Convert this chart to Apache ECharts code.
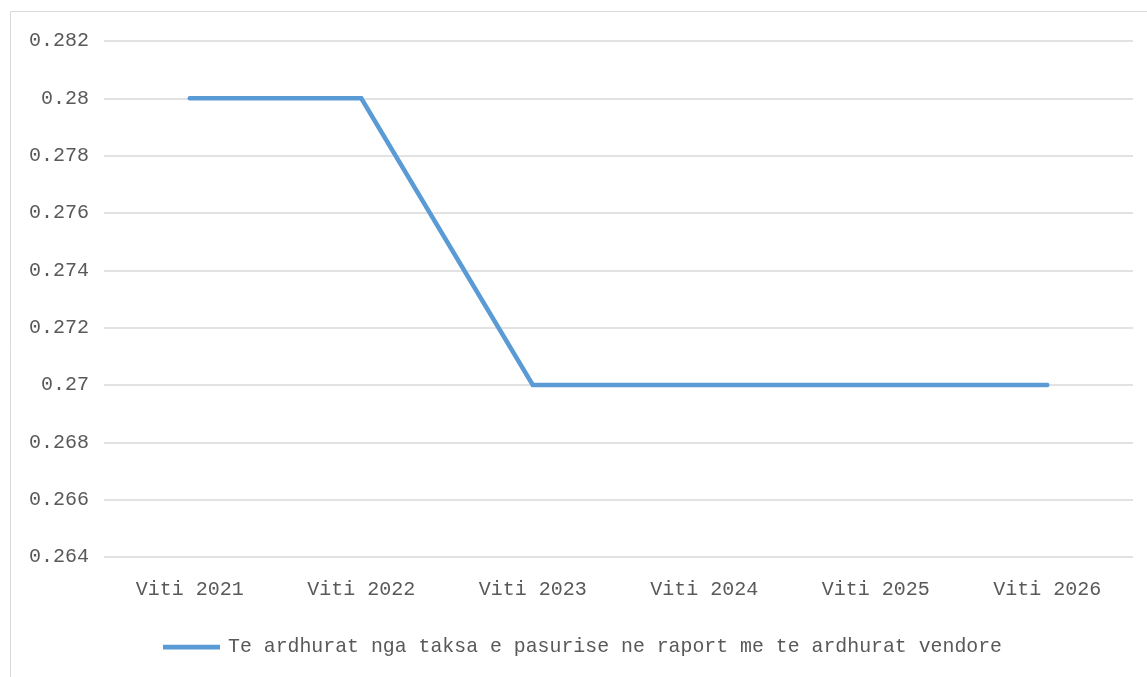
<!DOCTYPE html>
<html>
<head>
<meta charset="utf-8">
<script src="https://cdn.jsdelivr.net/npm/echarts@6/dist/echarts.min.js"></script>
<style>html,body{margin:0;padding:0;background:#fff;}#c{width:1147px;height:677px;}</style>
</head>
<body>
<div id="c"></div>
<script>
const categories = ['Viti 2021', 'Viti 2022', 'Viti 2023', 'Viti 2024', 'Viti 2025', 'Viti 2026'];
const seriesName = 'Te ardhurat nga taksa e pasurise ne raport me te ardhurat vendore';
const values = [0.28, 0.28, 0.27, 0.27, 0.27, 0.27];
const yMin = 0.264, yMax = 0.282, yStep = 0.002;

const font = 'Liberation Mono';
const chart = echarts.init(document.getElementById('c'), null, {renderer: 'canvas'});
chart.setOption({
  animation: false,
  backgroundColor: '#ffffff',
  graphic: [{
    type: 'rect', shape: {x: 10.5, y: 11.5, width: 1200, height: 700},
    style: {fill: 'none', stroke: '#d9d9d9', lineWidth: 1}, silent: true, z: -1
  }],
  grid: {left: 104, right: 14, top: 41, bottom: 120, containLabel: false},
  legend: {
    top: 632, left: 158, itemWidth: 57, itemHeight: 5,
    textStyle: {fontFamily: font, fontSize: 19.85, color: '#595959', padding: [0, 0, 0, 3]},
    data: [{name: seriesName, icon: 'path://M0,0 L60,0 L60,5 L0,5 Z'}]
  },
  xAxis: {
    type: 'category', data: categories, boundaryGap: true,
    axisLine: {show: false}, axisTick: {show: false},
    axisLabel: {fontFamily: font, fontSize: 20, color: '#595959', margin: 23}
  },
  yAxis: {
    type: 'value', min: yMin, max: yMax, interval: yStep,
    axisLine: {show: false}, axisTick: {show: false},
    splitLine: {lineStyle: {color: '#d9d9d9', width: 1.5}},
    axisLabel: {fontFamily: font, fontSize: 20, color: '#595959', margin: 15,
      formatter: v => String(parseFloat(v.toFixed(3)))}
  },
  series: [{
    name: seriesName, type: 'line', data: values,
    symbol: 'none', lineStyle: {color: '#5b9bd5', width: 4.5, cap: 'round', join: 'miter'},
    itemStyle: {color: '#5b9bd5'}
  }]
});
</script>
</body>
</html>
